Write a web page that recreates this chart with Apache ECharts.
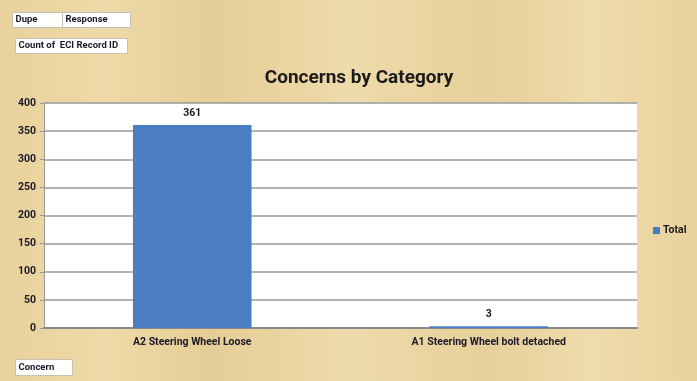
<!DOCTYPE html>
<html><head><meta charset="utf-8">
<script src="https://cdn.jsdelivr.net/npm/echarts@6/dist/echarts.min.js"></script>
<style>html,body{margin:0;padding:0;background:#e8d4a2;}#c{width:697px;height:381px;}</style>
</head><body><div id="c"></div>
<script>
const categories = ['A2 Steering Wheel Loose', 'A1 Steering Wheel bolt detached'];
const totals = [361, 3];
const yTicks = [0, 50, 100, 150, 200, 250, 300, 350, 400];
const seriesName = 'Total';
const titleText = 'Concerns by Category';
const FONT = 'Roboto';

const chart = echarts.init(document.getElementById('c'));
function box(x, y, w, h, text) {
  return {
    type: 'group', left: x, top: y,
    children: [
      {type: 'rect', shape: {x: 0, y: 0, width: w, height: h},
       style: {fill: '#ffffff', stroke: '#c8c0b0', lineWidth: 1}},
      {type: 'text', style: {x: 3, y: h / 2, text: text, fill: '#1a1a2a',
        font: 'bold 9.5px ' + FONT, textVerticalAlign: 'middle'}}
    ]
  };
}
chart.setOption({
  backgroundColor: {
    type: 'linear', x: 0, y: 0, x2: 1, y2: 0,
    colorStops: [
      {offset: 0, color: '#e8d19c'}, {offset: 0.15, color: '#eedaa8'},
      {offset: 0.3, color: '#e5cd96'}, {offset: 0.5, color: '#eedbab'},
      {offset: 0.7, color: '#e6d09b'}, {offset: 0.85, color: '#efdcac'},
      {offset: 1, color: '#e8d29d'}
    ]
  },
  animation: false,
  title: {
    text: titleText, left: 354, top: 64, textAlign: 'center',
    textStyle: {fontFamily: FONT, fontWeight: 'bold', fontSize: 19, color: '#1a1a1a'}
  },
  legend: {
    data: [seriesName], left: 648, top: 220, orient: 'vertical',
    itemWidth: 7, itemHeight: 7, itemGap: 4, icon: 'rect',
    textStyle: {fontFamily: FONT, fontWeight: 'bold', fontSize: 10.5, color: '#1a1a1a', padding: [0, 0, 0, -2]}
  },
  grid: {left: 44, right: 60, top: 103, bottom: 53, show: true, backgroundColor: '#ffffff', borderWidth: 0},
  xAxis: {
    type: 'category', data: categories,
    axisLine: {lineStyle: {color: '#888888', width: 2}},
    axisTick: {show: false},
    axisLabel: {fontFamily: FONT, fontWeight: 'bold', fontSize: 10.5, color: '#1a1a2a', margin: 9}
  },
  yAxis: {
    type: 'value', min: yTicks[0], max: yTicks[yTicks.length - 1], interval: 50,
    axisLine: {show: true, lineStyle: {color: '#999999', width: 1}},
    axisTick: {show: true, length: 4, lineStyle: {color: '#999999'}},
    axisLabel: {fontFamily: FONT, fontWeight: 'bold', fontSize: 10.5, color: '#1a1a2a', margin: 8},
    splitLine: {lineStyle: {color: '#9a9a9a', width: 1.5}}
  },
  series: [{
    name: seriesName, type: 'bar', data: totals, barWidth: '40%',
    itemStyle: {color: '#4a7dc2'},
    label: {show: true, position: 'top', distance: 6, fontFamily: FONT, fontWeight: 'bold', fontSize: 10.5, color: '#1a1a1a'}
  }],
  graphic: [
    box(12, 12, 50, 15, 'Dupe'),
    box(62, 12, 68, 15, 'Response'),
    box(15, 38, 112, 15, 'Count of  ECI Record ID'),
    box(15, 359, 57, 16, 'Concern')
  ]
});
</script></body></html>
